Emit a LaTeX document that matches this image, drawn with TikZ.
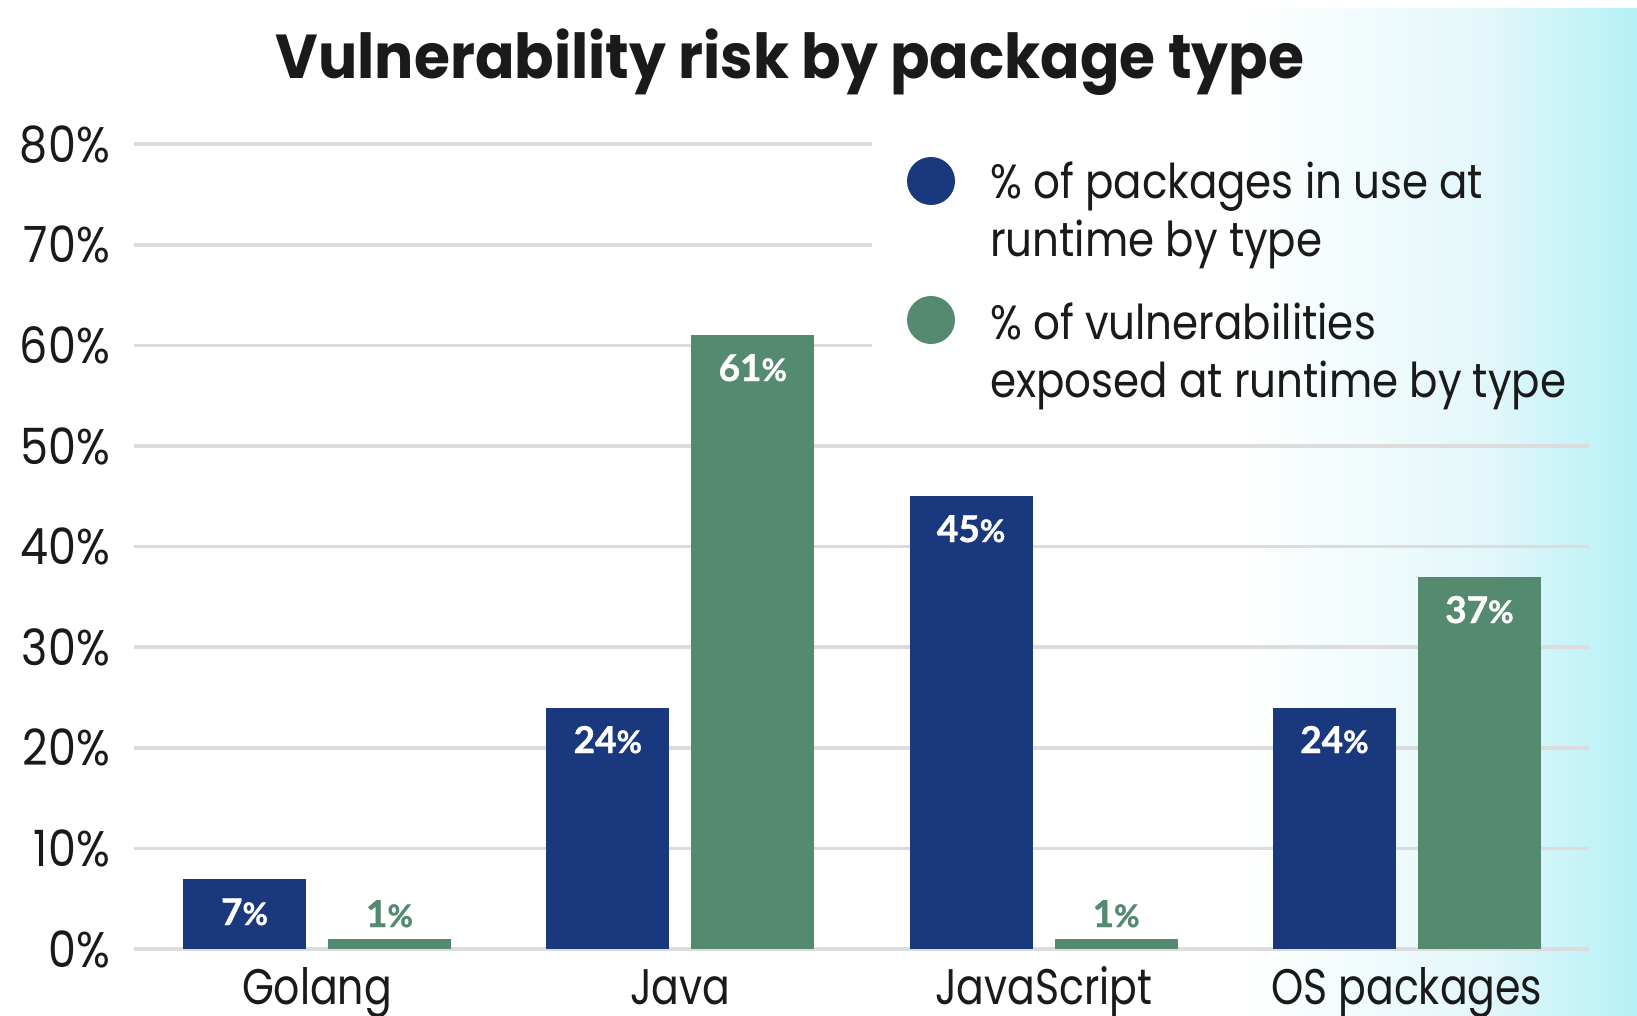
\documentclass[tikz,border=0pt]{standalone}
\usepackage{fontspec}
\setmainfont{Poppins}[FakeStretch=0.82]
\newfontfamily\titlefont{Poppins}[FakeStretch=0.94]
\newfontfamily\legfont{Poppins}[FakeStretch=0.875]
\newfontfamily\yfont{Poppins}[FakeStretch=0.89]
\newfontfamily\valfont{Lato}[BoldFeatures={FakeBold=1.2}]
\definecolor{barblue}{HTML}{1A387D}
\definecolor{bargreen}{HTML}{548A70}
\definecolor{gridgray}{HTML}{DCDCDC}
\definecolor{txt}{HTML}{1A1A1A}
\definecolor{cyanA}{HTML}{E2F7FA}
\definecolor{cyanB}{HTML}{B4F1F6}
\newcommand\pct{{\fontsize{31}{31}\selectfont\%}}
\begin{document}
\begin{tikzpicture}[x=1pt,y=-1pt,
  gridline/.style={gridgray,line width=3.5pt},
  bluebar/.style={fill=barblue},
  greenbar/.style={fill=bargreen},
  ylab/.style={anchor=base east,text=txt,font=\yfont\fontsize{50}{50}\selectfont,inner sep=0pt},
  catlab/.style={anchor=base,text=txt,font=\fontsize{50}{50}\selectfont,inner sep=0pt},
  vallab/.style={anchor=base,text=white,font=\valfont\bfseries\fontsize{37}{37}\selectfont,inner sep=0pt},
  legtext/.style={anchor=base west,text=txt,font=\legfont\fontsize{48}{48}\selectfont,inner sep=0pt},
  legdot/.style={circle,minimum size=48pt,inner sep=0pt}
]
\useasboundingbox (0,0) rectangle (1637,1015);
\fill[white] (0,0) rectangle (1637,1015);
\shade[left color=white,right color=cyanA] (1240,8) rectangle (1490,1015);
\shade[left color=cyanA,right color=cyanB] (1490,8) rectangle (1637,1015);

% title
\node[anchor=base,text=txt,inner sep=0pt,font=\titlefont\bfseries\fontsize{62}{62}\selectfont] (title) at (790,78) {Vulnerability risk by package type};

% gridlines
\foreach \k in {0,...,5}{
  \draw[gridline] (134,{949-100.6*\k}) -- (1589,{949-100.6*\k});
}
\foreach \k in {6,7,8}{
  \draw[gridline] (134,{949-100.6*\k}) -- (872,{949-100.6*\k});
}
% y labels
\node[ylab] (y0) at (110,{949+18}) {0\%};
\foreach \k in {1,...,8}{
  \node[ylab] (y\k) at (110,{949-100.6*\k+18}) {\k0\%};
}

% Golang
\fill[bluebar]  (183,949) rectangle (306,878.6);
\fill[greenbar] (328,949) rectangle (451,939);
\node[vallab] (gb) at (244.5,925) {7\pct};
\node[vallab,text=bargreen] (gg) at (389.5,927) {1\pct};
% Java
\fill[bluebar]  (546.3,949) rectangle (669.3,707.6);
\fill[greenbar] (691.3,949) rectangle (814.3,335.3);
\node[vallab] (jb) at (607.8,753) {24\pct};
\node[vallab] (jg) at (752.8,381) {61\pct};
% JavaScript
\fill[bluebar]  (909.6,949) rectangle (1032.6,496.3);
\fill[greenbar] (1054.6,949) rectangle (1177.6,939);
\node[vallab] (sb) at (971.1,542) {45\pct};
\node[vallab,text=bargreen] (sg) at (1116.1,927) {1\pct};
% OS packages
\fill[bluebar]  (1272.9,949) rectangle (1395.9,707.6);
\fill[greenbar] (1417.9,949) rectangle (1540.9,576.8);
\node[vallab] (ob) at (1334.4,753) {24\pct};
\node[vallab] (og) at (1479.4,623) {37\pct};

% category labels
\node[catlab] (c1) at (317,1004) {Golang};
\node[catlab] (c2) at (680.3,1004) {Java};
\node[catlab] (c3) at (1043.6,1004) {JavaScript};
\node[catlab] (c4) at (1406.9,1004) {OS packages};

% legend
\node[legdot,fill=barblue] (d1) at (931,181) {};
\node[legdot,fill=bargreen] (d2) at (931,320) {};
\node[legtext] (l1) at (990,198) {\% of packages in use at};
\node[legtext] (l2) at (990,256) {runtime by type};
\node[legtext] (l3) at (990,339) {\% of vulnerabilities};
\node[legtext] (l4) at (990,397) {exposed at runtime by type};
\end{tikzpicture}
\end{document}
